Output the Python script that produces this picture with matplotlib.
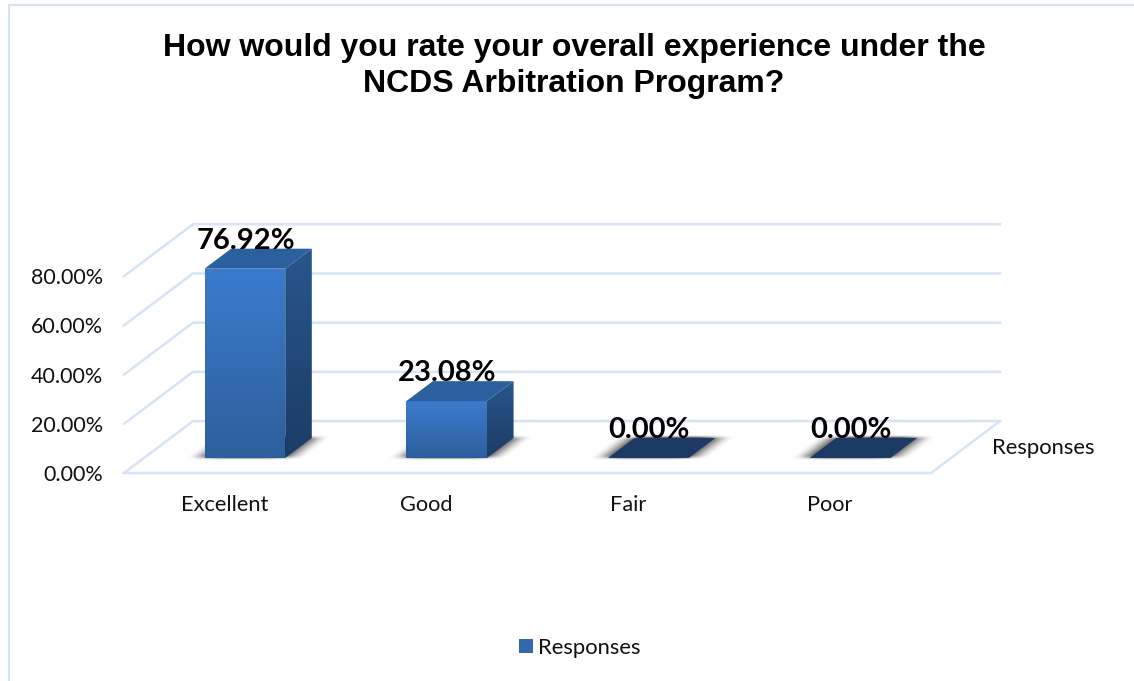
import numpy as np
import matplotlib
matplotlib.use("Agg")
import matplotlib.pyplot as plt
from matplotlib.colors import LinearSegmentedColormap
from matplotlib.patches import Patch, Polygon, Rectangle

categories = ["Excellent", "Good", "Fair", "Poor"]
values = [76.92, 23.08, 0.00, 0.00]
value_labels = ["76.92%", "23.08%", "0.00%", "0.00%"]
grid_values = [0, 20, 40, 60, 80]
grid_labels = ["0.00%", "20.00%", "40.00%", "60.00%", "80.00%"]
series_name = "Responses"
title = "How would you rate your overall experience under the\nNCDS Arbitration Program?"

W, H = 1134, 681
GRID = "#d6e4f5"

plt.rcParams["font.family"] = ["Lato", "DejaVu Sans"]

fig = plt.figure(figsize=(W / 100, H / 100), dpi=100)

# axes sits on the front plane of the fake 3d box
left, right, bottom, top = 124, 1000, 473, 224
ax = fig.add_axes([left / W, 1 - bottom / H, (right - left) / W, (bottom - top) / H])
ax.patch.set_visible(False)
for s in ax.spines.values():
    s.set_visible(False)

# oblique projection: depth 0 is the front of the floor, 1 is the back wall
DX, DY = 0.342, 21.1


def proj(x, y, d):
    return x + d * DX, y + d * DY


def gradient_poly(pts, c_top, c_bot, z):
    xs = [p[0] for p in pts]
    ys = [p[1] for p in pts]
    cmap = LinearSegmentedColormap.from_list("g", [c_bot, c_top])
    grad = np.linspace(0, 1, 64).reshape(-1, 1)
    im = ax.imshow(grad, origin="lower", cmap=cmap, aspect="auto", zorder=z,
                   extent=[min(xs), max(xs), min(ys), max(ys)])
    im.set_clip_path(Polygon(pts, closed=True, transform=ax.transData))


def soft(t):
    t = np.clip(t, 0, 1)
    return t * t * (3 - 2 * t)


def floor_shadow(a, b, d_from, d_to):
    # blurred parallelogram on the floor, wide blur sideways, tight in depth
    wx, wd = 0.1, 0.05
    xs = np.linspace(a - 0.2, b + DX + 0.2, 300)
    ds = np.linspace(d_from - 0.1, d_to + 0.1, 80)
    xx, dd = np.meshgrid(xs, ds)
    uu = xx - dd * DX
    alpha = (soft((uu - a + wx) / (2 * wx)) * soft((b + wx - uu) / (2 * wx))
             * soft((dd - d_from + wd) / (2 * wd)) * soft((d_to + wd - dd) / (2 * wd)))
    rgba = np.zeros(alpha.shape + (4,))
    rgba[..., :3] = 0.12
    rgba[..., 3] = np.clip(alpha * 1.25, 0, 1)
    ax.imshow(rgba, origin="lower", aspect="auto", zorder=2, interpolation="bilinear",
              extent=[xs[0], xs[-1], ds[0] * DY, ds[-1] * DY], clip_on=False)


# walls and floor lines
for g in grid_values:
    ax.plot(*zip(proj(-0.5, g, 0), proj(-0.5, g, 1), proj(3.5, g, 1)),
            color=GRID, lw=1.8, clip_on=False, zorder=1)
ax.plot(*zip(proj(-0.5, 0, 0), proj(3.5, 0, 0), proj(3.5, 0, 1)),
        color=GRID, lw=1.8, clip_on=False, zorder=1)

# bars
half, d0, d1 = 0.2, 0.29, 0.675
for i, v in enumerate(values):
    a, b = i - half, i + half
    floor_shadow(a, b, d0, d1)
    if v == 0:
        flat = [proj(a, 0, d0), proj(b, 0, d0), proj(b, 0, d1), proj(a, 0, d1)]
        ax.add_patch(Polygon(flat, closed=True, fc="#1c3b64", ec="none", zorder=3))
    else:
        front = [proj(a, 0, d0), proj(b, 0, d0), proj(b, v, d0), proj(a, v, d0)]
        side = [proj(b, 0, d0), proj(b, 0, d1), proj(b, v, d1), proj(b, v, d0)]
        lid = [proj(a, v, d0), proj(b, v, d0), proj(b, v, d1), proj(a, v, d1)]
        gradient_poly(side, "#28568c", "#1c3c65", 3)
        gradient_poly(front, "#3b7bcd", "#2d5f9c", 4)
        ax.add_patch(Polygon(lid, closed=True, fc="#2c5f9d", ec="none", zorder=4))
    lx, ly = proj(i, v, d1)
    ax.text(proj(i, 0, d0)[0] + 0.003, ly + 3.2, value_labels[i], ha="center", va="center",
            fontsize=21, fontweight="bold", color="black", zorder=6)

ax.set_xlim(-0.5, 3.842)
ax.set_ylim(0, 101.2)

ax.set_xticks(range(len(categories)), categories)
ax.set_yticks(grid_values, grid_labels)
ax.tick_params(axis="x", length=0, pad=16, labelsize=15.7, labelcolor="#111111")
ax.tick_params(axis="y", length=0, pad=15, labelsize=15.5, labelcolor="#111111")

# series name at the end of the depth axis
ax.text(3.5 + 0.5 * DX + 0.13, 10.2, series_name, fontsize=15.8, color="#111111",
        va="center", ha="left", clip_on=False)

fig.text(574 / W, 1 - 66 / H, title, ha="center", va="center", family="Liberation Sans",
         fontweight="bold", fontsize=23, color="black", linespacing=1.26)

# chart frame, only top and left show in the crop
fig.add_artist(Rectangle((9 / W, -0.02), 1.1, 1 - 5 / H + 0.02, transform=fig.transFigure,
                         fc="none", ec=GRID, lw=1.5))

leg = fig.legend(handles=[Patch(facecolor="#3368ae", label=series_name)],
                 loc="center", bbox_to_anchor=(580 / W, 1 - 648 / H), frameon=False,
                 fontsize=15.8, handlelength=0.62, handleheight=0.62, handletextpad=0.25,
                 labelcolor="#111111")

fig.savefig("out.png", dpi=100)
